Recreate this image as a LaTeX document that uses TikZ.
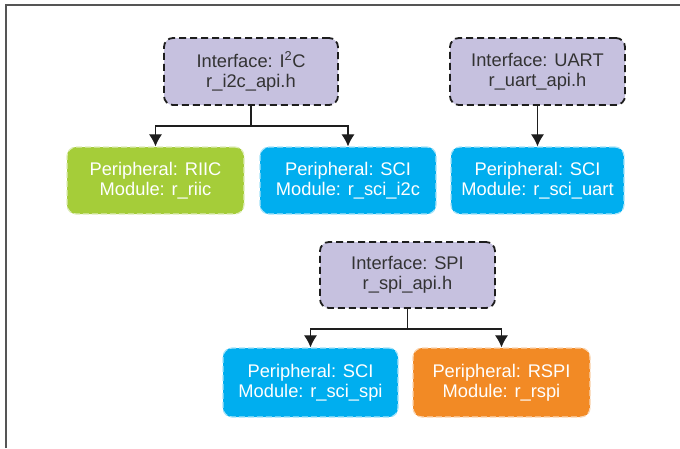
\documentclass[tikz,border=0pt]{standalone}
\usepackage{fontspec}
\setmainfont{Liberation Sans}
\usetikzlibrary{arrows.meta}
\definecolor{ifill}{HTML}{C6C1DF}
\definecolor{iborder}{HTML}{1E1E1E}
\definecolor{pgreen}{HTML}{A5CD39}
\definecolor{pblue}{HTML}{00AEEF}
\definecolor{porange}{HTML}{F28A25}
\definecolor{framegray}{HTML}{555555}
\definecolor{txtgray}{HTML}{333333}
\tikzset{
  iface/.style={draw=iborder, fill=ifill, line width=1.8pt,
    dash pattern=on 7pt off 4pt, rounded corners=9pt,
    text=txtgray, align=center, inner sep=0pt,
    font=\fontsize{18.3}{20}\selectfont},
  periph/.style={draw=white!65!#1, fill=#1, line width=1.2pt,
    dash pattern=on 6pt off 3pt, rounded corners=9pt,
    text=white, align=center, inner sep=0pt,
    font=\fontsize{18.3}{20}\selectfont},
  link/.style={draw=iborder, line width=1.1pt},
  tip/.style={-{Latex[length=12pt,width=13pt]}}
}
\begin{document}
\begin{tikzpicture}[x=1pt,y=-1pt]
\useasboundingbox (0,0) rectangle (680,448);
% outer frame (top and left edges only)
\draw[framegray, line width=2pt] (6,448) -- (6,5) -- (680,5);

% interface boxes
\node[iface, minimum width=174pt, minimum height=67pt] (i2c) at (251,71.5)
  {Interface: I\textsuperscript{2}C\\r\_i2c\_api.h};
\node[iface, minimum width=175pt, minimum height=67pt] (uart) at (537.5,71.5)
  {Interface: UART\\r\_uart\_api.h};
\node[iface, minimum width=175pt, minimum height=66pt] (spi) at (407.5,275)
  {Interface: SPI\\r\_spi\_api.h};

% peripheral modules
\node[periph=pgreen, minimum width=177pt, minimum height=67pt] (riic) at (155.5,180.5)
  {Peripheral: RIIC\\Module: r\_riic};
\node[periph=pblue, minimum width=176pt, minimum height=67pt] (scii2c) at (348,180.5)
  {Peripheral: SCI\\Module: r\_sci\_i2c};
\node[periph=pblue, minimum width=173pt, minimum height=67pt] (sciuart) at (537.5,180.5)
  {Peripheral: SCI\\Module: r\_sci\_uart};
\node[periph=pblue, minimum width=175pt, minimum height=69pt] (scispi) at (310.5,382.5)
  {Peripheral: SCI\\Module: r\_sci\_spi};
\node[periph=porange, minimum width=177pt, minimum height=69pt] (rspi) at (501.5,382.5)
  {Peripheral: RSPI\\Module: r\_rspi};

% connectors
\coordinate (i2cj) at (251,126);
\coordinate (spij) at (407.5,329);
\draw[link] (i2c.south) -- (i2cj);
\draw[link, tip] (i2cj) -| (riic.north);
\draw[link, tip] (i2cj) -| (scii2c.north);
\draw[link, tip] (uart.south) -- (sciuart.north);
\draw[link] (spi.south) -- (spij);
\draw[link, tip] (spij) -| (scispi.north);
\draw[link, tip] (spij) -| (rspi.north);
\end{tikzpicture}
\end{document}
